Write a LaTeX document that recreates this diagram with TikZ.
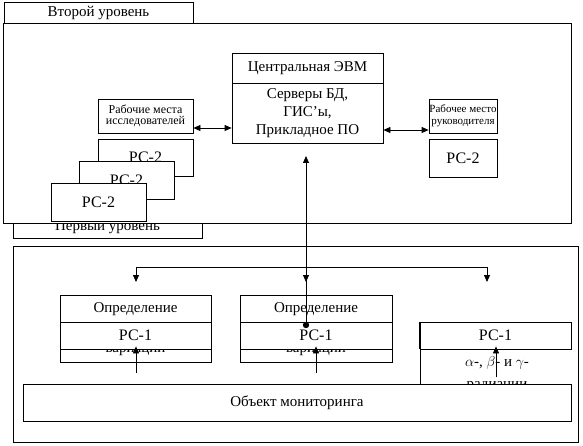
\documentclass[tikz,border=0pt]{standalone}
\usepackage{fontspec}
\setmainfont{Liberation Serif}
\usetikzlibrary{positioning, arrows.meta}

\begin{document}
\begin{tikzpicture}[
    x=1pt, y=-1pt,
    box/.style={draw, fill=white, inner sep=0pt, line width=0.8pt, align=center},
    txt/.style={inner sep=0pt, font=\fontsize{15}{18}\selectfont},
    small/.style={font=\fontsize{12}{11.5}\selectfont},
    smaller/.style={font=\fontsize{11}{11.5}\selectfont},
    pcfont/.style={font=\fontsize{16}{18}\selectfont},
    arrow/.style={-{Triangle[length=7pt, width=6pt]}, line width=0.8pt},
    dblarrow/.style={{Triangle[length=7pt, width=6pt]}-{Triangle[length=7pt, width=6pt]}, line width=0.8pt},
    wire/.style={line width=0.8pt}
]
\useasboundingbox (0,0) rectangle (583,446);

% Second level: tab and frame
\node[box, txt, minimum width=189, minimum height=21] (tab2) at (98.5,12.5) {Второй уровень};
\node[box, minimum width=189, minimum height=33] (tab1) at (107.5,221.5) {};
\node[txt, anchor=base] (tab1text) at (107.5,231) {Первый уровень};
\node[box, minimum width=568, minimum height=200] (level2) at (287,123) {};

% Central computer
\node[box, txt, minimum width=151, minimum height=30] (evmhead) at (307.5,68) {Центральная ЭВМ};
\node[box, txt, minimum width=151, minimum height=60] (evmbody) at (307.5,113) {Серверы БД,\\ГИС’ы,\\Прикладное ПО};

% Researchers' workstations
\node[box, small, minimum width=95, minimum height=34] (res) at (145.5,116) {Рабочие места\\исследователей};
\node[box, pcfont, minimum width=95, minimum height=37] (pc2a) at (145.5,157.5) {РС-2};
\node[box, pcfont, minimum width=95, minimum height=38] (pc2b) at (126.5,180) {РС-2};
\node[box, pcfont, minimum width=95, minimum height=38] (pc2c) at (98.5,202) {РС-2};

% Head's workstation
\node[box, smaller, minimum width=68, minimum height=34] (boss) at (463,116) {Рабочее место\\руководителя};
\node[box, pcfont, minimum width=68, minimum height=38] (pc2r) at (463,158) {РС-2};

\draw[dblarrow] (res.east |- 0,128) -- (evmbody.west |- 0,128);
\draw[dblarrow] (evmbody.east |- 0,130) -- (boss.west |- 0,130);

% First level frame
\node[box, minimum width=565, minimum height=196] (level1) at (295.5,344) {};

% Measuring stations
\node[box, minimum width=151, minimum height=67] (det1) at (135.5,328.5) {};
\node[txt] (det1text) at (135.5,309) {Определение};
\node[txt, anchor=base] (det1var) at (135.5,352.5) {вариации};
\node[box, pcfont, minimum width=151, minimum height=27] (pc1a) at (135.5,335.5) {РС-1};

\node[box, minimum width=152, minimum height=67] (det2) at (316,328.5) {};
\node[txt] (det2text) at (316,309) {Определение};
\node[txt, anchor=base] (det2var) at (316,352.5) {вариации};
\node[box, pcfont, minimum width=152, minimum height=27] (pc1b) at (316,335.5) {РС-1};

\coordinate (det3top) at (420,322);
\coordinate (det3bot) at (420,384);
\draw[wire] (det3top) -- (det3bot);
\node[txt] (det3text) at (497,363) {$\alpha$-, $\beta$- и $\gamma$-};
\node[txt, anchor=base] (det3rad) at (497,388) {радиации};
\node[box, pcfont, minimum width=151, minimum height=27] (pc1c) at (495.5,335.5) {РС-1};
\draw[line width=1.6pt] (pc1c.north west) -- (pc1c.south west);

% Monitored object
\node[box, txt, minimum width=548, minimum height=37] (obj) at (297,402.5) {Объект мониторинга};

% Distribution bus from the central computer
\coordinate (busL) at (136,267);
\coordinate (busM) at (306,267);
\coordinate (busR) at (487,267);
\coordinate (tipL) at (136,282);
\coordinate (tipM) at (306,282);
\coordinate (tipR) at (487,282);
\coordinate (evmtip) at (306,156);
\coordinate (dot) at (306,325);
\draw[wire] (busL) -- (busR);
\draw[arrow] (busL) -- (tipL);
\draw[arrow] (busM) -- (tipM);
\draw[arrow] (busR) -- (tipR);
\draw[arrow] (dot) -- (evmtip);
\fill (dot) circle (3.2);

% Sensors up to the stations
\coordinate (upL) at (136,373);
\coordinate (upM) at (316,373);
\coordinate (upR) at (496,377);
\draw[arrow] (upL) -- ([yshift=3pt]pc1a.south -| upL);
\draw[arrow] (upM) -- ([yshift=3pt]pc1b.south -| upM);
\draw[arrow] (upR) -- ([yshift=3pt]pc1c.south -| upR);

\end{tikzpicture}
\end{document}
